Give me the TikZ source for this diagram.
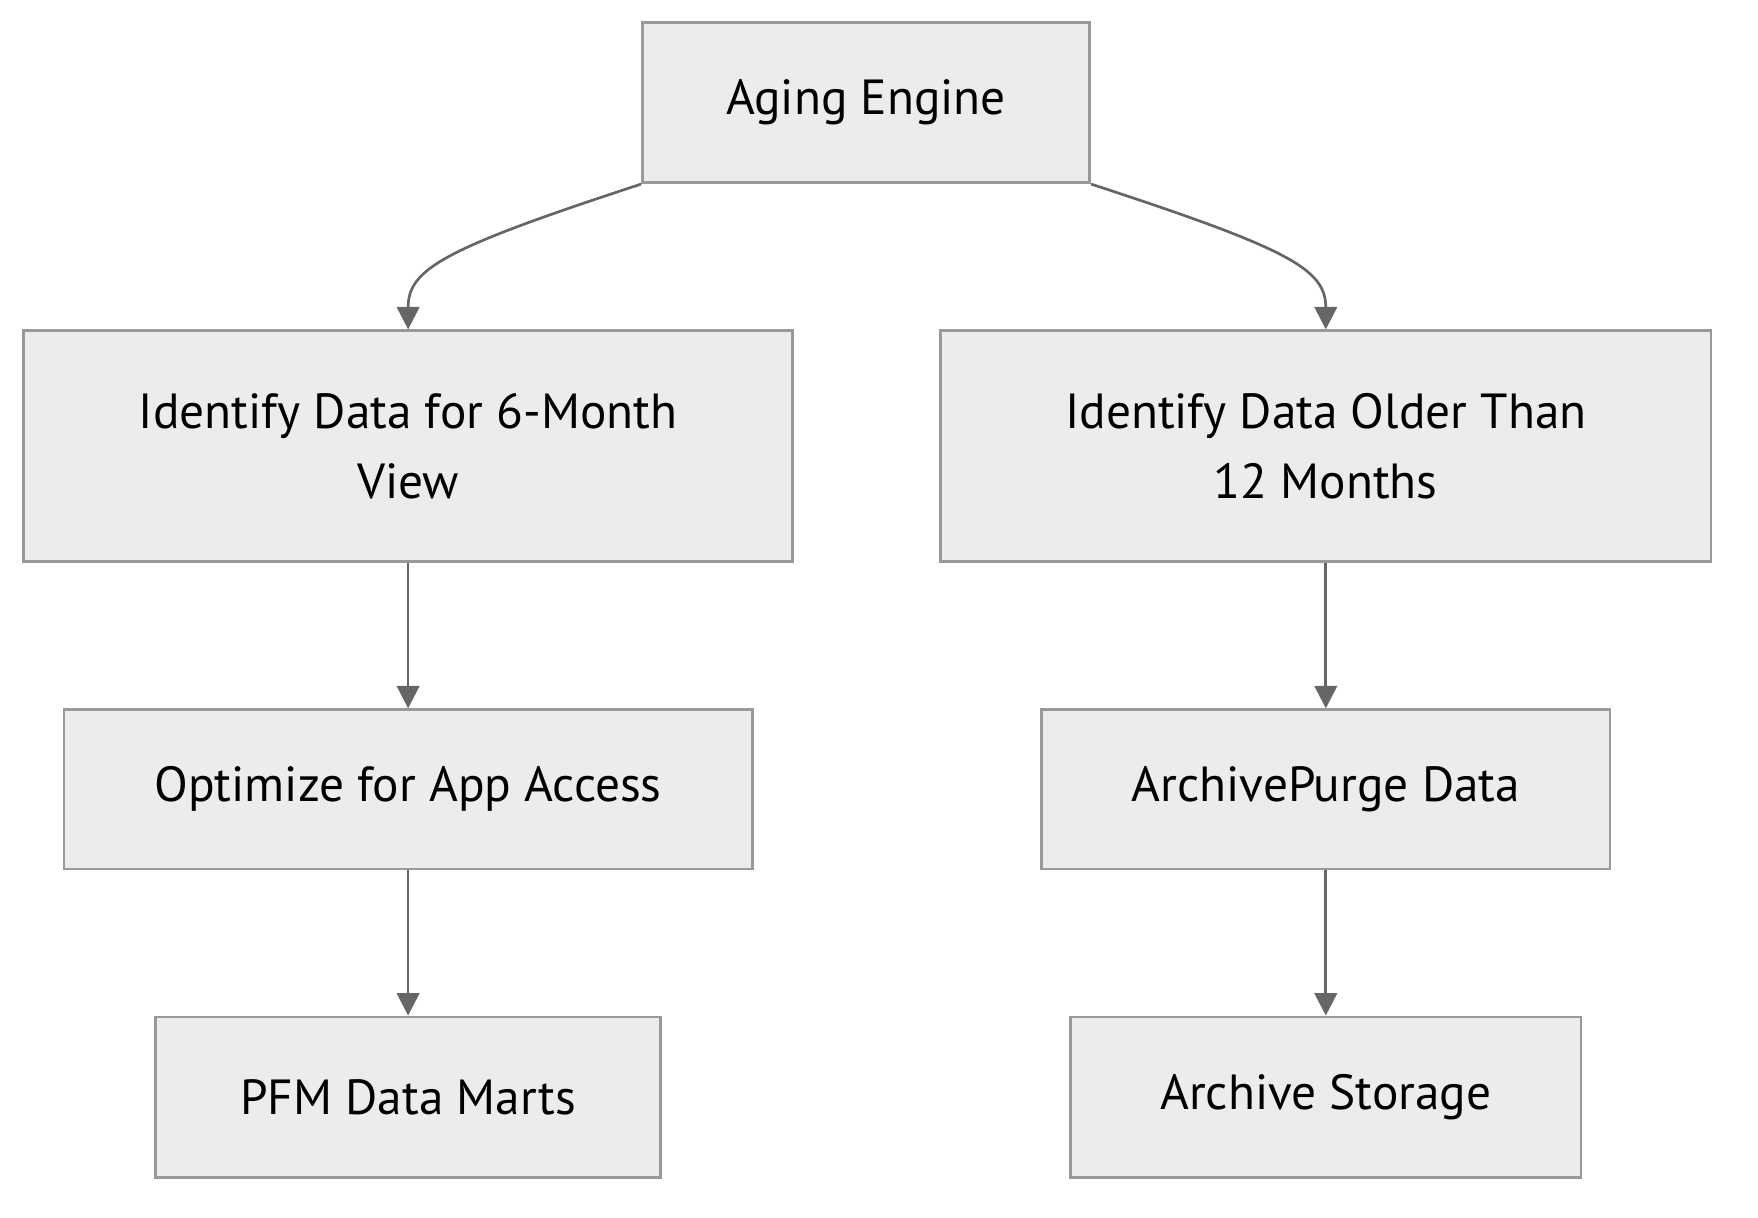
\documentclass[tikz,border=0pt]{standalone}
\usepackage{fontspec}
\setmainfont{PT Sans}
\usetikzlibrary{arrows.meta}
\definecolor{boxfill}{HTML}{ECECEC}
\definecolor{boxline}{HTML}{999999}
\definecolor{edgeline}{HTML}{666666}
\tikzset{
  box/.style={draw=boxline, fill=boxfill, line width=1.2pt, inner sep=0pt,
    align=center, font=\fontsize{22}{31.5}\selectfont},
  flow/.style={draw=edgeline, line width=1.2pt,
    -{Triangle[length=10pt,width=10pt]}}
}
\begin{document}
\begin{tikzpicture}[x=0.5pt,y=-0.5pt]
        \useasboundingbox (0,0) rectangle (1568,1086);
        % Radice
        \node[box, minimum width=199.5pt, minimum height=71.5pt] (aging) at (772.5,91.5) {Aging Engine};
        % Ramo a sinistra
        \node[box, minimum width=343pt, minimum height=103pt] (sixmonth) at (364,398) {Identify Data for 6-Month\\View};
        \node[box, minimum width=307pt, minimum height=71pt] (optimize) at (364,704) {Optimize for App Access};
        \node[box, minimum width=225pt, minimum height=71.5pt] (marts) at (364,978.5) {PFM Data Marts};
        % Ramo a destra
        \node[box, minimum width=343.5pt, minimum height=103pt] (older) at (1182.5,398) {Identify Data Older Than\\12 Months};
        \node[box, minimum width=253.5pt, minimum height=71pt] (purge) at (1182.5,704) {ArchivePurge Data};
        \node[box, minimum width=227.5pt, minimum height=71.5pt] (storage) at (1182.5,978.5) {Archive Storage};
        % Frecce
        \draw[flow] (aging.south west) .. controls (395,222) and (364,240) .. (sixmonth.north);
        \draw[flow] (aging.south east) .. controls (1150,222) and (1182.5,240) .. (older.north);
        \draw[flow] (sixmonth) -- (optimize);
        \draw[flow] (optimize) -- (marts);
        \draw[flow] (older) -- (purge);
        \draw[flow] (purge) -- (storage);
\end{tikzpicture}
\end{document}
